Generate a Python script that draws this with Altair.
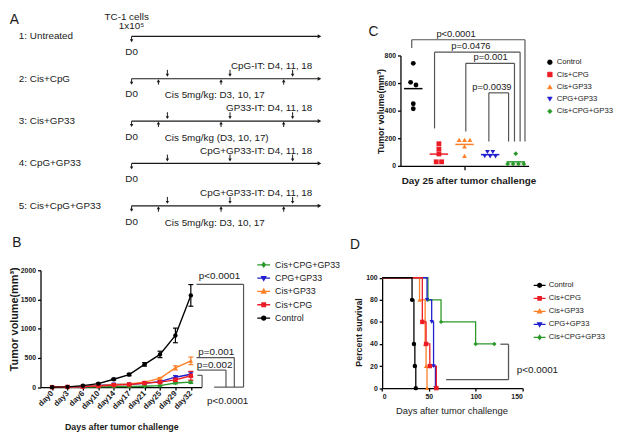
import altair as alt
import pandas as pd

F = "Liberation Sans, Arial, sans-serif"
FN = "Liberation Sans Narrow, Arial Narrow, Liberation Sans, sans-serif"
INK = "#1a1a1a"
GREY = "#555555"

groups = ["Control", "Cis+CPG", "Cis+GP33", "CPG+GP33", "Cis+CPG+GP33"]
colors = ["#000000", "#ec1c24", "#ff7f27", "#1f1fcf", "#2b9a2b"]
shapes = ["circle", "square", "triangle-up", "triangle-down", "diamond"]
legend_paths = [
    "M-1,0L1,0M0.32,0A0.32,0.32,0,1,1,-0.32,0A0.32,0.32,0,1,1,0.32,0Z",
    "M-1,0L1,0M-0.28,-0.28L0.28,-0.28L0.28,0.28L-0.28,0.28Z",
    "M-1,0L1,0M0,-0.36L0.32,0.24L-0.32,0.24Z",
    "M-1,0L1,0M0,0.36L0.32,-0.24L-0.32,-0.24Z",
    "M-1,0L1,0M0,-0.34L0.26,0L0,0.34L-0.26,0Z",
]

# ---------------- Panel A (schedule) ----------------
a_rows = ["1: Untreated", "2: Cis+CpG", "3: Cis+GP33", "4: CpG+GP33", "5: Cis+CpG+GP33"]
a_it = ["", "CpG-IT: D4, 11, 18", "GP33-IT: D4, 11, 18", "CpG+GP33-IT: D4, 11, 18", "CpG+GP33-IT: D4, 11, 18"]
a_cis = ["", "Cis 5mg/kg: D3, 10, 17", "Cis 5mg/kg (D3, 10, 17)", "", "Cis 5mg/kg: D3, 10, 17"]
a_cis_days = [3, 10, 17]
a_it_days = [4, 11, 18]
a_end_day = 21

# ---------------- Panel B (growth curves) ----------------
b_days = ["day0", "day3", "day6", "day10", "day14", "day17", "day21", "day25", "day29", "day32"]
b_mean = {
    "Control":      [0, 5, 25, 60, 135, 215, 390, 560, 885, 1570],
    "Cis+CPG":      [0, 3, 8, 20, 35, 45, 70, 85, 125, 195],
    "Cis+GP33":     [0, 2, 8, 25, 40, 55, 85, 150, 330, 450],
    "CPG+GP33":     [0, 2, 6, 30, 45, 50, 65, 95, 170, 220],
    "Cis+CPG+GP33": [0, 1, 3, 5, 8, 10, 15, 25, 70, 85],
}
b_sem = {
    "Control":      [0, 3, 6, 10, 15, 20, 30, 55, 125, 185],
    "Cis+CPG":      [0, 1, 2, 4, 6, 8, 12, 15, 30, 75],
    "Cis+GP33":     [0, 1, 2, 5, 6, 8, 10, 15, 35, 65],
    "CPG+GP33":     [0, 1, 2, 5, 8, 8, 10, 15, 25, 40],
    "Cis+CPG+GP33": [0, 0, 1, 1, 2, 3, 4, 6, 15, 20],
}
b_order = ["Cis+CPG+GP33", "CPG+GP33", "Cis+GP33", "Cis+CPG", "Control"]
b_brackets = [
    [(9.37, 1759), (12.42, 1759), (12.42, 0)],
    [(9.37, 506), (11.82, 506), (11.82, 0)],
    [(9.43, 292), (11.28, 292), (11.28, 0)],
    [(9.43, 202), (9.73, 202), (9.73, 0)],
    [(10.51, 0), (12.42, 0)],
]
b_ptext = ["p<0.0001", "p=0.001", "p=0.002", "p<0.0001"]
b_px = [10.86, 10.65, 10.54, 11.39]
b_py = [1899, 595, 371, -236]

# ---------------- Panel C (day 25 scatter) ----------------
c_vals = {
    "Control":      [743, 605, 586, 450, 414],
    "Cis+CPG":      [160, 121, 86, 29, 29],
    "Cis+GP33":     [188, 188, 188, 140, 72],
    "CPG+GP33":     [100, 100, 70, 68, 68],
    "Cis+CPG+GP33": [88, 14, 14, 14, 14],
}
c_brackets = [
    [(0.94, 855), (0.94, 914), (5.36, 914), (5.36, 176)],
    [(1.83, 271), (1.83, 824), (5.17, 824), (5.17, 176)],
    [(3.05, 248), (3.05, 743), (4.95, 743), (4.95, 176)],
    [(3.95, 176), (3.95, 529), (4.72, 529), (4.72, 176)],
]
c_ptext = ["p<0.0001", "p=0.0476", "p=0.001", "p=0.0039"]
c_px = [2.67, 3.25, 4.02, 4.07]
c_py = [955, 867, 789, 574]

# ---------------- Panel D (survival) ----------------
d_days = {
    "Control":      [0, 32, 34, 35, 36],
    "Cis+CPG":      [0, 43, 47, 51, 58],
    "Cis+GP33":     [0, 40, 46, 47, 48],
    "CPG+GP33":     [0, 48, 53, 55, 57],
    "Cis+CPG+GP33": [0, 49, 63, 100, 120],
}
d_pct = {
    "Control":      [100, 80, 40, 20, 0],
    "Cis+CPG":      [100, 60, 40, 20, 0],
    "Cis+GP33":     [100, 80, 40, 20, 0],
    "CPG+GP33":     [100, 80, 60, 20, 0],
    "Cis+CPG+GP33": [100, 80, 60, 40, 40],
}
d_bracket = [[(126.5, 39.8), (135.2, 39.8), (135.2, 7.7), (68.5, 7.7)]]
d_ptext = ["p<0.0001"]
d_px = [144]
d_py = [16.6]


def seg_df(polylines):
    rows = []
    for pl in polylines:
        for (x1, y1), (x2, y2) in zip(pl[:-1], pl[1:]):
            rows.append({"x": x1, "y": y1, "x2": x2, "y2": y2})
    return pd.DataFrame(rows)


def swarm(vals, thr=28, step=0.21):
    order = sorted(range(len(vals)), key=lambda i: -vals[i])
    clusters = []
    for i in order:
        if clusters and abs(vals[clusters[-1][-1]] - vals[i]) < thr:
            clusters[-1].append(i)
        else:
            clusters.append([i])
    offs = [0.0] * len(vals)
    for c in clusters:
        n = len(c)
        for k, i in enumerate(c):
            offs[i] = (k - (n - 1) / 2) * step
    return offs


def legend_layer(order, symset, size, lx, ly, row_pad, label_off, font_size, sw):
    cols = [colors[groups.index(g)] for g in order]
    paths = [symset[groups.index(g)] for g in order]
    leg = alt.Legend(orient="none", legendX=lx, legendY=ly, title=None, labelFont=FN,
                     labelFontSize=font_size, labelColor=INK, symbolSize=size,
                     symbolStrokeWidth=sw, rowPadding=row_pad, labelOffset=label_off, padding=0)
    return alt.Chart(pd.DataFrame({"g": order})).transform_filter("false").mark_point(
        filled=True, size=size, opacity=1, strokeWidth=sw
    ).encode(
        fill=alt.Fill("g:N", scale=alt.Scale(domain=order, range=cols), legend=leg),
        stroke=alt.Stroke("g:N", scale=alt.Scale(domain=order, range=cols), legend=leg),
        shape=alt.Shape("g:N", scale=alt.Scale(domain=order, range=paths), legend=leg),
    )


# ================= Build A =================
xa = alt.Scale(domain=[-10.18, 21.21], nice=False, zero=False)
ya = alt.Scale(domain=[0.451, 4.405], reverse=True, nice=False, zero=False)


def ax(f):
    return alt.X(f"{f}:Q", scale=xa, axis=None)


def ay(f):
    return alt.Y(f"{f}:Q", scale=ya, axis=None)


rows_df = pd.DataFrame({"r": list(range(5)), "d0": 0, "dend": a_end_day,
                        "lab": a_rows, "it": a_it, "cis": a_cis})
rows_df["labx"] = -12.6
rows_df["cisx"] = 3.7
rows_df["itx"] = 20.2
cis_df = pd.DataFrame([{"r": r, "d": d} for r in range(5) if a_cis[r] for d in a_cis_days])
it_df = pd.DataFrame([{"r": r, "d": d} for r in range(5) if a_it[r] for d in a_it_days])
head_df = pd.DataFrame([{"d": 0, "r": 0, "t": "TC-1 cells", "t2": "1x10\u2075"}])
letter_a = pd.DataFrame([{"d": -13.1, "r": -0.395, "t": "A"}])

txt = dict(font=F, fontSize=10, color=INK, baseline="middle")
A = alt.layer(
    alt.Chart(rows_df).mark_rule(color=INK, strokeWidth=1.2).encode(x=ax("d0"), x2="dend:Q", y=ay("r")),
    alt.Chart(rows_df).mark_point(shape="triangle-right", filled=True, size=18, color=INK, opacity=1).encode(x=ax("dend"), y=ay("r")),
    alt.Chart(rows_df).mark_rule(color=INK, strokeWidth=1, yOffset=0, y2Offset=5).encode(x=ax("d0"), y=ay("r"), y2="r:Q"),
    alt.Chart(rows_df).mark_point(shape="triangle-down", filled=True, size=12, color=INK, opacity=1, yOffset=4.5).encode(x=ax("d0"), y=ay("r")),
    alt.Chart(cis_df).mark_rule(color=INK, strokeWidth=1, yOffset=2, y2Offset=6).encode(x=ax("d"), y=ay("r"), y2="r:Q"),
    alt.Chart(cis_df).mark_point(shape="triangle-up", filled=True, size=12, color=INK, opacity=1, yOffset=2).encode(x=ax("d"), y=ay("r")),
    alt.Chart(it_df).mark_rule(color=INK, strokeWidth=1, yOffset=-9, y2Offset=-4).encode(x=ax("d"), y=ay("r"), y2="r:Q"),
    alt.Chart(it_df).mark_point(shape="triangle-down", filled=True, size=12, color=INK, opacity=1, yOffset=-3.5).encode(x=ax("d"), y=ay("r")),
    alt.Chart(rows_df).mark_text(align="left", **txt).encode(x=ax("labx"), y=ay("r"), text="lab:N"),
    alt.Chart(rows_df).mark_text(align="center", dy=16, **txt).encode(x=ax("d0"), y=ay("r"), text=alt.value("D0")),
    alt.Chart(rows_df[rows_df.cis != ""]).mark_text(align="left", dy=17, **txt).encode(x=ax("cisx"), y=ay("r"), text="cis:N"),
    alt.Chart(rows_df[rows_df.it != ""]).mark_text(align="right", dy=-13, **txt).encode(x=ax("itx"), y=ay("r"), text="it:N"),
    alt.Chart(head_df).mark_text(align="center", dy=-20, dx=-5, **txt).encode(x=ax("d"), y=ay("r"), text="t:N"),
    alt.Chart(head_df).mark_text(align="center", dy=-10, **txt).encode(x=ax("d"), y=ay("r"), text="t2:N"),
    alt.Chart(letter_a).mark_text(align="center", baseline="middle", font=F, fontSize=14, color=INK).encode(x=ax("d"), y=ay("r"), text="t:N"),
).properties(width=285, height=170)

# ================= Build B =================
brec = []
for g in b_order:
    for i in range(len(b_days)):
        m, s = b_mean[g][i], b_sem[g][i]
        brec.append({"g": g, "i": i, "m": m, "lo": m - s, "hi": m + s, "s": s})
bdf = pd.DataFrame(brec)
bcol = [colors[groups.index(g)] for g in b_order]
bshp = [shapes[groups.index(g)] for g in b_order]
xb = alt.Scale(domain=[-0.75, 9.7], nice=False, zero=False)
yb = alt.Scale(domain=[0, 2000], nice=False)
label_expr = "[" + ",".join("'%s'" % d for d in b_days) + "][datum.value]"
bx_axis = alt.Axis(values=list(range(len(b_days))), labelExpr=label_expr, labelAngle=-45, labelAlign="right",
                   labelBaseline="middle", labelFontSize=8, labelOverlap=False, tickSize=3,
                   title="Days after tumor challenge",
                   titleFontSize=9, titleX=82, titleY=39.7, titleBaseline="middle")
by_axis = alt.Axis(values=[0, 500, 1000, 1500, 2000], format="d", tickSize=3, title="Tumor volume(mm\u00b3)",
                   titleFontSize=11, titleX=-26, titleY=49.3, titleBaseline="middle")


def bx(f):
    return alt.X(f"{f}:Q", scale=xb, axis=bx_axis)


def by(f):
    return alt.Y(f"{f}:Q", scale=yb, axis=by_axis)


bcolor = alt.Color("g:N", scale=alt.Scale(domain=b_order, range=bcol), legend=None)
berr = bdf[bdf.s > 0]
b_seg = seg_df(b_brackets)
b_pt = pd.DataFrame({"x": b_px, "y": b_py, "t": b_ptext})
letter_b = pd.DataFrame([{"x": -2.29, "y": 2458, "t": "B"}])

B = alt.layer(
    alt.Chart(berr).mark_rule(strokeWidth=1.2).encode(x=bx("i"), y=by("lo"), y2="hi:Q", color=bcolor),
    alt.Chart(berr).mark_tick(orient="horizontal", size=5, thickness=1.2, opacity=1).encode(x=bx("i"), y=by("hi"), color=bcolor),
    alt.Chart(berr).mark_tick(orient="horizontal", size=5, thickness=1.2, opacity=1).encode(x=bx("i"), y=by("lo"), color=bcolor),
    alt.Chart(bdf).mark_line(strokeWidth=1.4).encode(x=bx("i"), y=by("m"), color=bcolor),
    alt.Chart(bdf).mark_point(filled=True, size=20, opacity=1).encode(
        x=bx("i"), y=by("m"), color=bcolor,
        shape=alt.Shape("g:N", scale=alt.Scale(domain=b_order, range=bshp), legend=None)),
    alt.Chart(b_seg).mark_rule(color=GREY, strokeWidth=1.2).encode(x=bx("x"), y=by("y"), x2="x2:Q", y2="y2:Q"),
    alt.Chart(b_pt).mark_text(font=F, fontSize=10, color=INK, align="center", baseline="middle").encode(x=bx("x"), y=by("y"), text="t:N"),
    alt.Chart(letter_b).mark_text(font=F, fontSize=14, color=INK, align="center", baseline="middle").encode(x=bx("x"), y=by("y"), text="t:N"),
    legend_layer(b_order, legend_paths, 169, 219, -13, 0.5, 4, 9, 1.3),
).resolve_scale(shape="independent", fill="independent", stroke="independent").properties(width=163.5, height=118.6)

# ================= Build C =================
crec, cmean = [], []
for k, g in enumerate(groups):
    vals = c_vals[g]
    offs = swarm(vals)
    for v, o in zip(vals, offs):
        crec.append({"g": g, "x": k + 1 + o, "v": v})
    mu = sum(vals) / len(vals)
    cmean.append({"g": g, "x1": k + 1 - 0.36, "x2": k + 1 + 0.36, "m": mu})
cdf = pd.DataFrame(crec)
cmdf = pd.DataFrame(cmean)
xc = alt.Scale(domain=[0.5, 5.5], nice=False, zero=False)
yc = alt.Scale(domain=[0, 800], nice=False)
cx_axis = alt.Axis(values=[3], labels=False, tickSize=4, title="Day 25 after tumor challenge",
                   titleFontSize=10, titleX=69, titleY=15.3, titleBaseline="middle")
cy_axis = alt.Axis(values=[0, 200, 400, 600, 800], tickSize=3, title="Tumor volume(mm\u00b3)",
                   titleFontSize=9, titleX=-20.3, titleY=56.3, titleBaseline="middle")


def cx(f):
    return alt.X(f"{f}:Q", scale=xc, axis=cx_axis)


def cy(f):
    return alt.Y(f"{f}:Q", scale=yc, axis=cy_axis)


c_seg = seg_df(c_brackets)
c_pt = pd.DataFrame({"x": c_px, "y": c_py, "t": c_ptext})
letter_c = pd.DataFrame([{"x": -0.55, "y": 969, "t": "C"}])

C = alt.layer(
    alt.Chart(cmdf).mark_rule(strokeWidth=1.5).encode(
        x=cx("x1"), x2="x2:Q", y=cy("m"),
        color=alt.Color("g:N", scale=alt.Scale(domain=groups, range=colors), legend=None)),
    alt.Chart(cdf).mark_point(filled=True, size=24, opacity=1).encode(
        x=cx("x"), y=cy("v"),
        color=alt.Color("g:N", scale=alt.Scale(domain=groups, range=colors), legend=None),
        shape=alt.Shape("g:N", scale=alt.Scale(domain=groups, range=shapes), legend=None)),
    alt.Chart(c_seg).mark_rule(color=GREY, strokeWidth=1.2).encode(x=cx("x"), y=cy("y"), x2="x2:Q", y2="y2:Q"),
    alt.Chart(c_pt).mark_text(font=F, fontSize=9.5, color=INK, align="center", baseline="middle").encode(x=cx("x"), y=cy("y"), text="t:N"),
    alt.Chart(letter_c).mark_text(font=F, fontSize=14, color=INK, align="center", baseline="middle").encode(x=cx("x"), y=cy("y"), text="t:N"),
    legend_layer(groups, shapes, 24, 147.7, 3, 3.45, 3, 7.8, 0.5),
).resolve_scale(shape="independent", fill="independent", stroke="independent").properties(width=130, height=112)

# ================= Build D =================
d_order = ["Cis+CPG+GP33", "CPG+GP33", "Cis+GP33", "Cis+CPG", "Control"]
drec = []
for g in d_order:
    for j, (dd, pp) in enumerate(zip(d_days[g], d_pct[g])):
        drec.append({"g": g, "d": dd, "p": pp, "j": j})
ddf = pd.DataFrame(drec)
xd = alt.Scale(domain=[0, 150], range=[-18.6, 123.7], nice=False, zero=False)
yd = alt.Scale(domain=[0, 100], range=[119.6, 7.6], nice=False)
dx_axis = alt.Axis(values=[0, 50, 100, 150], tickSize=3, title="Days after tumor challenge",
                   titleFontSize=9.5, titleFontWeight="normal", titleX=51.7, titleY=22.7, titleBaseline="middle")
dy_axis = alt.Axis(values=[0, 20, 40, 60, 80, 100], tickSize=3, offset=18.6, title="Percent survival",
                   titleFontSize=9, titleX=-23.7, titleY=62.6, titleBaseline="middle")


def dxe(f):
    return alt.X(f"{f}:Q", scale=xd, axis=dx_axis)


def dye(f):
    return alt.Y(f"{f}:Q", scale=yd, axis=dy_axis)


dcolor = alt.Color("g:N", scale=alt.Scale(domain=groups, range=colors), legend=None)
d_seg = seg_df(d_bracket)
d_pt = pd.DataFrame({"x": d_px, "y": d_py, "t": d_ptext})
letter_d = pd.DataFrame([{"x": -29.2, "y": 129.3, "t": "D"}])

D = alt.layer(
    alt.Chart(ddf).mark_line(interpolate="step-after", strokeWidth=1.3).encode(
        x=dxe("d"), y=dye("p"), color=dcolor, order="j:Q"),
    alt.Chart(ddf[ddf.j > 0]).mark_point(filled=True, size=20, opacity=1).encode(
        x=dxe("d"), y=dye("p"), color=dcolor,
        shape=alt.Shape("g:N", scale=alt.Scale(domain=groups, range=shapes), legend=None)),
    alt.Chart(d_seg).mark_rule(color=GREY, strokeWidth=1.3).encode(x=dxe("x"), y=dye("y"), x2="x2:Q", y2="y2:Q"),
    alt.Chart(d_pt).mark_text(font=F, fontSize=10, color=INK, align="left", baseline="middle").encode(x=dxe("x"), y=dye("y"), text="t:N"),
    alt.Chart(letter_d).mark_text(font=F, fontSize=14, color=INK, align="center", baseline="middle").encode(x=dxe("x"), y=dye("y"), text="t:N"),
    legend_layer(groups, legend_paths, 144, 134.2, 8.3, 1.2, 2.2, 7.8, 1.3),
).resolve_scale(shape="independent", fill="independent", stroke="independent").properties(width=130, height=119.6)

RES = dict(color="independent", shape="independent", fill="independent", stroke="independent")
chart = alt.concat(
    A, C, B, D, columns=2, spacing={"row": 48, "column": 80.3}, bounds="flush"
).resolve_scale(**RES).properties(padding=0).configure_view(stroke=None).configure_axis(
    grid=False, domainColor="#000000", domainWidth=1.3, tickColor="#000000", tickWidth=1.3,
    labelFont=FN, labelFontWeight="bold", labelColor=INK, labelFontSize=7, labelPadding=2,
    titleFont=F, titleFontWeight="bold", titleColor=INK,
)

chart.save("out.html", embed_options={"renderer": "svg", "actions": False})
